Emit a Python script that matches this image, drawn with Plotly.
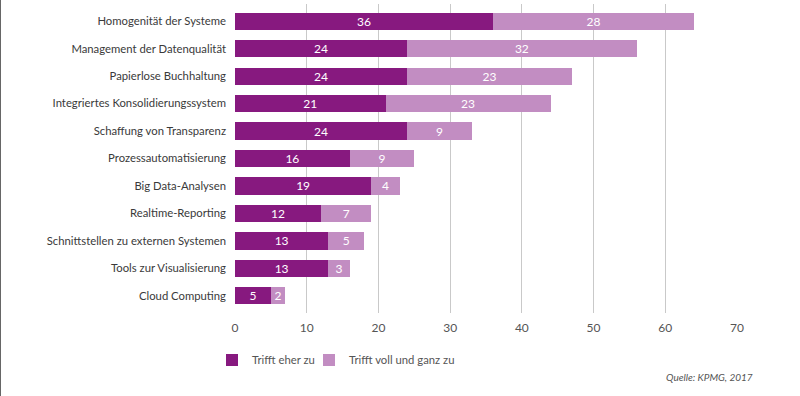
import plotly.graph_objects as go

categories = [
    "Homogenität der Systeme",
    "Management der Datenqualität",
    "Papierlose Buchhaltung",
    "Integriertes Konsolidierungssystem",
    "Schaffung von Transparenz",
    "Prozessautomatisierung",
    "Big Data-Analysen",
    "Realtime-Reporting",
    "Schnittstellen zu externen Systemen",
    "Tools zur Visualisierung",
    "Cloud Computing",
]
eher_zu = [36, 24, 24, 21, 24, 16, 19, 12, 13, 13, 5]
voll_zu = [28, 32, 23, 23, 9, 9, 4, 7, 5, 3, 2]
series_names = ["Trifft eher zu", "Trifft voll und ganz zu"]
x_ticks = [0, 10, 20, 30, 40, 50, 60, 70]
source_text = "Quelle: KPMG, 2017"

DARK = "#87197f"
LIGHT = "#c28dc2"
FONT = "Lato, Roboto, Arial, sans-serif"

fig = go.Figure()
for vals, name, col, leg in [(eher_zu, series_names[0], DARK, "legend"),
                             (voll_zu, series_names[1], LIGHT, "legend2")]:
    fig.add_trace(go.Bar(
        y=categories, x=vals, name=name, orientation="h",
        marker=dict(color=col, line=dict(width=0)),
        width=0.62, legend=leg, showlegend=True,
        text=[str(v) for v in vals], textposition="inside",
        insidetextanchor="middle", textangle=0,
        textfont=dict(color="white", size=12, family=FONT),
        hoverinfo="skip",
    ))

leg_common = dict(orientation="h", xanchor="left", y=-0.152, yanchor="middle",
                  font=dict(size=11.3, color="#555555", family=FONT),
                  bgcolor="rgba(0,0,0,0)")

fig.update_layout(
    barmode="stack", showlegend=True,
    width=800, height=396,
    margin=dict(l=235, r=63, t=4, b=83),
    paper_bgcolor="white", plot_bgcolor="white",
    font=dict(family=FONT, size=12, color="#444444"),
    uniformtext=dict(mode="show", minsize=11),
    xaxis=dict(
        range=[0, 70], tickvals=x_ticks, showgrid=True, gridcolor="#c9c9c9",
        gridwidth=1, zeroline=False, showline=False, ticks="",
        tickfont=dict(size=12, color="#555555"), ticklabelstandoff=6,
    ),
    yaxis=dict(
        categoryorder="array", categoryarray=categories,
        range=[10.62, -0.62], showgrid=False, zeroline=False, showline=False,
        ticks="", tickfont=dict(size=11.3, color="#3a3a3a"), ticklabelstandoff=8,
    ),
    legend=dict(x=(212 - 235) / 502, **leg_common),
    legend2=dict(x=(309 - 235) / 502, **leg_common),
    annotations=[dict(
        text=source_text, xref="paper", yref="paper", x=(755 - 235) / 502,
        y=-(377 - 313) / 309, xanchor="right", yanchor="middle", showarrow=False,
        font=dict(size=10, color="#555555", family=FONT, style="italic"),
    )],
    shapes=[dict(type="line", xref="paper", yref="paper",
                 x0=(0.5 - 235) / 502, x1=(0.5 - 235) / 502, y0=-83 / 309, y1=1 + 4 / 309,
                 line=dict(color="#666666", width=1))],
)

fig.write_html("out.html", config={"displayModeBar": False},
               post_script="document.body.style.margin='0';")
